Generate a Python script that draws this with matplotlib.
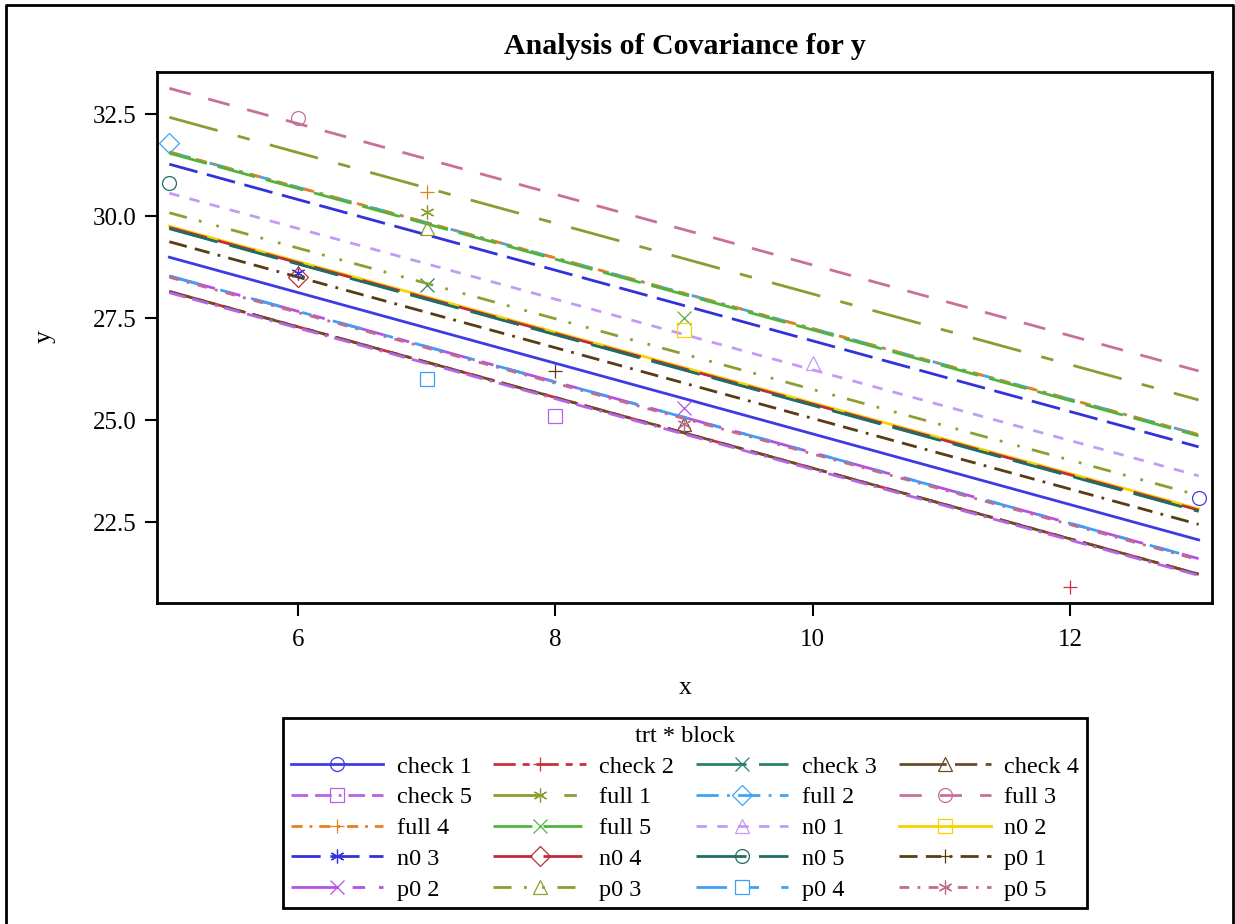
import matplotlib
matplotlib.use('Agg')
import matplotlib.pyplot as plt
from matplotlib.lines import Line2D

plt.rcParams['font.family'] = ['Liberation Serif', 'DejaVu Serif']
plt.rcParams['lines.scale_dashes'] = False

# groups (trt * block)
groups = ['check 1', 'check 2', 'check 3', 'check 4', 'check 5',
          'full 1', 'full 2', 'full 3', 'full 4', 'full 5',
          'n0 1', 'n0 2', 'n0 3', 'n0 4', 'n0 5',
          'p0 1', 'p0 2', 'p0 3', 'p0 4', 'p0 5']

# observed points
x_obs = [13, 12, 7, 9, 8,
         7, 5, 6, 7, 9,
         10, 9, 6, 6, 5,
         8, 9, 7, 7, 9]
y_obs = [23.1, 20.9, 28.3, 24.9, 25.1,
         30.1, 31.8, 32.4, 30.6, 27.5,
         26.4, 27.2, 28.6, 28.5, 30.8,
         26.2, 25.3, 29.7, 26.0, 24.9]

# fitted value of each group's line at x = 5, common slope
fit_at5 = [28.99, 28.15, 29.70, 28.15, 28.12,
           32.42, 31.57, 33.13, 31.57, 31.54,
           30.56, 29.75, 31.27, 29.72, 29.69,
           29.37, 28.53, 30.08, 28.53, 28.50]
slope = -0.866

colors = ['#3c3ce6', '#c8303f', '#28826e', '#6e4b28', '#b464e6',
          '#8c9b32', '#3ca5f5', '#c8709b', '#e6821e', '#50b43c',
          '#c39bf5', '#fad200', '#3232dc', '#be2d3c', '#1e6e64',
          '#5a3c14', '#b450e6', '#8ca032', '#3ca0fa', '#be6e8c']

asterisk = (6, 2, 0)
markers = ['o', '+', 'x', '^', 's',
           asterisk, 'D', 'o', '+', 'x',
           '^', 's', asterisk, 'D', 'o',
           '+', 'x', '^', 's', asterisk]

styles = ['-', (0, (16, 5, 5, 5)), (0, (36, 9)), (0, (34, 6, 16, 6)), (0, (12, 5, 12, 5, 2, 5)),
          (0, (36, 15, 9, 15)), (0, (16, 6, 2, 6)), (0, (16, 13)), (0, (8, 5, 2, 5)), (0, (28, 8)),
          (0, (7.5, 7.5)), '-', (0, (21, 7)), (0, (28, 8)), (0, (36, 9)),
          (0, (13, 6, 11, 6, 2, 6)), (0, (34, 10, 9, 10)), (0, (13, 9, 2, 11, 2, 9)),
          (0, (22, 16, 7, 16)), (0, (7, 6, 2, 6))]

W, H = 1235, 924
fig = plt.figure(figsize=(W / 100, H / 100), dpi=100)
ax = fig.add_axes([157 / W, 1 - 603 / H, (1212 - 157) / W, (603 - 72) / H])

x0, x1 = min(x_obs), max(x_obs)
handles = []
for i, g in enumerate(groups):
    xs = [x0, x1]
    ys = [fit_at5[i] + slope * (x - 5) for x in xs]
    ax.plot(xs, ys, color=colors[i], linestyle=styles[i], lw=2.0)
    ax.plot(x_obs[i], y_obs[i], linestyle='none', marker=markers[i], ms=10,
            mfc='none', mec=colors[i], mew=0.9)
    handles.append(Line2D([], [], color=colors[i], linestyle=styles[i], lw=2.0,
                          marker=markers[i], ms=10, mfc='none', mec=colors[i], mew=0.9))

ax.set_xlim(4.904, 13.104)
ax.set_ylim(20.515, 33.53)
ax.set_xticks([6, 8, 10, 12])
ax.set_yticks([22.5, 25.0, 27.5, 30.0, 32.5])
ax.set_yticklabels(['22.5', '25.0', '27.5', '30.0', '32.5'])
ax.tick_params(direction='out', length=9, width=1.5, labelsize=18)
ax.tick_params(axis='x', pad=10)
ax.tick_params(axis='y', pad=6)
for s in ax.spines.values():
    s.set_linewidth(2)

fig.text(685 / W, 1 - 47 / H, 'Analysis of Covariance for y', ha='center', va='center',
         fontsize=21.5, fontweight='bold')
fig.text(685 / W, 1 - 688 / H, 'x', ha='center', va='center', fontsize=18.5)
fig.text(45 / W, 1 - 337 / H, 'y', ha='center', va='center', fontsize=18.5, rotation=90)

# legend is filled row by row in the reference
order = [r * 4 + c for c in range(4) for r in range(5)]
leg = fig.legend([handles[k] for k in order], [groups[k] for k in order],
                 ncol=4, loc='upper center', bbox_to_anchor=(685 / W, 1 - 718 / H),
                 borderaxespad=0, fontsize=17.5, title='trt * block', title_fontsize=17.5,
                 handlelength=3.8, handletextpad=0.55, columnspacing=0.9,
                 labelspacing=0.36, borderpad=0.32, numpoints=1,
                 fancybox=False, framealpha=1, edgecolor='black')
leg.get_frame().set_linewidth(2)

# outer border (left, top, right)
fig.add_artist(Line2D([6 / W, 6 / W, 1233 / W, 1233 / W], [0, 1 - 5 / H, 1 - 5 / H, 0],
                      transform=fig.transFigure, color='black', lw=2))

fig.savefig('out.png', dpi=100)
